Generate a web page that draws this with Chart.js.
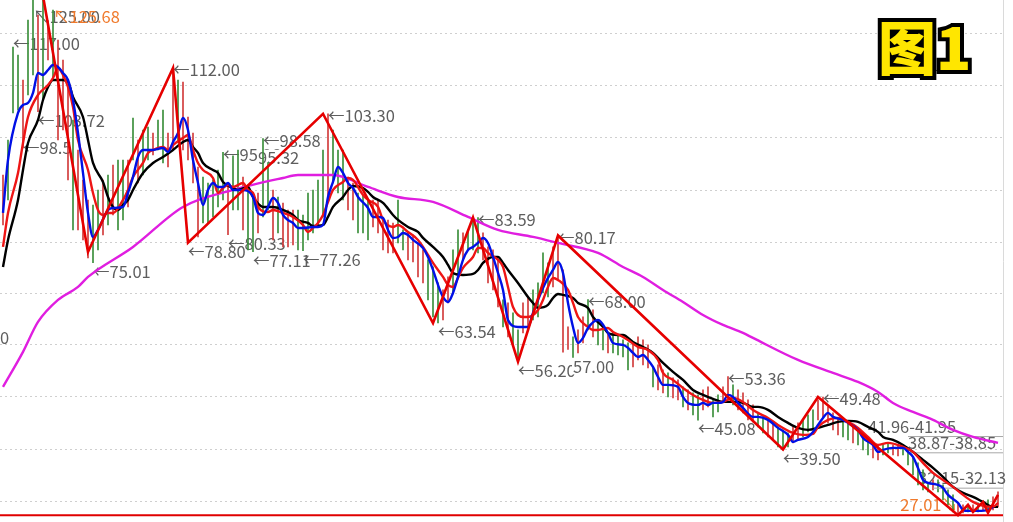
<!DOCTYPE html>
<html><head><meta charset="utf-8">
<script src="https://cdn.jsdelivr.net/npm/chart.js@4.4.0/dist/chart.umd.min.js"></script>
<style>html,body{margin:0;padding:0;background:#fff;overflow:hidden}#wrap{width:1013px;height:522px;position:relative}</style>
</head><body><div id="wrap"><canvas id="c" width="1013" height="522"></canvas></div>
<script>
// ---- candle data (day index 0..199) ----
const highs=[91.67,98.32,115.99,114.47,109.72,121.12,125.00,122.07,125.68,121.0,
123.02,117.32,113.52,109.72,102.12,96.42,90.72,86.92,85.97,88.82,
90.72,91.67,93.57,94.52,94.52,94.52,102.5,98.32,100.22,100.79,
99.65,102.12,104.02,99.65,112.00,109.72,109.34,102.69,99.65,93.19,
91.29,90.15,90.72,92.62,95.96,89.77,95.32,96.42,91.29,89.77,
88.25,88.25,98.58,94.0,88.82,87.49,86.35,85.02,85.02,85.02,
84.07,88.25,88.82,90.72,96.42,103.30,100.22,96.42,96.42,91.29,
90.15,88.25,87.87,86.92,86.92,86.92,83.69,83.12,82.55,86.92,
81.22,80.65,80.27,78.75,77.42,75.52,74.19,71.15,69.82,72.29,
77.42,81.22,80.65,81.22,83.12,83.59,80.65,77.99,77.42,75.52,
67.92,67.35,65.45,62.22,67.35,68.49,69.82,71.15,76.85,74.95,
77.99,80.17,73.62,62.79,60.89,62.22,64.69,68.00,66.02,64.12,
62.22,61.65,61.65,61.27,60.32,59.75,59.75,60.89,60.32,59.37,
55.19,55.57,54.62,54.05,53.1,52.72,51.39,50.82,50.25,49.87,
50.82,51.39,48.92,49.87,51.39,53.36,51.77,50.82,50.25,48.92,
47.97,46.45,45.69,45.12,44.74,43.79,43.22,42.65,43.79,44.55,
45.12,46.07,47.02,48.92,49.48,47.59,46.45,45.5,45.12,44.74,
44.17,43.22,41.96,41.89,40.75,40.37,40.37,40.75,40.37,40.18,
40.37,39.6,37.9,36.95,35.62,33.2,33.72,33.72,32.77,31.82,
30.87,29.35,28.97,28.97,28.97,29.35,29.35,29.92,30.49,31.44];
const lows=[82.17,86.92,103.45,104.02,96.8,106.87,110.67,103.72,105.92,113.52,
109.72,98.32,100.22,90.72,81.22,81.22,79.32,75.9,75.01,77.42,
80.27,82.17,84.07,81.22,83.12,85.59,94.52,90.15,91.67,94.52,
95.47,96.42,93.95,93.19,96.42,97.75,96.42,94.52,90.15,79.89,
82.55,82.55,83.69,85.59,86.92,80.33,85.02,85.02,81.22,77.42,
77.11,80.65,83.69,85.02,79.32,80.65,77.99,77.99,78.37,77.42,
77.26,79.32,80.65,81.79,83.69,86.92,90.15,88.25,86.92,85.02,
83.12,80.65,80.65,79.32,81.79,80.65,77.42,76.85,76.85,78.75,
77.42,75.52,75.14,72.29,71.15,67.92,64.69,63.54,64.12,67.35,
69.25,72.29,75.52,77.42,77.42,76.85,75.52,71.15,69.82,66.59,
62.79,60.89,59.37,56.20,61.65,62.22,64.12,64.69,69.25,68.49,
70.39,71.72,58.0,58.5,57.00,57.85,59.75,62.22,60.89,59.37,
58.42,57.85,57.85,57.47,57.09,54.62,55.19,56.52,55.57,55.0,
51.39,50.82,50.25,49.49,49.3,48.92,47.59,47.02,46.07,45.08,
47.02,47.59,45.69,46.64,48.35,48.92,47.97,47.02,46.45,45.12,
44.74,43.79,42.65,41.89,41.32,39.99,39.50,39.99,40.75,41.32,
41.89,42.84,43.22,45.12,45.5,44.55,43.22,42.27,41.89,41.32,
40.75,40.37,39.42,38.47,37.9,37.52,38.47,38.85,38.47,38.28,
38.47,36.57,34.67,32.77,31.82,31.44,31.82,31.44,29.92,28.97,
27.64,27.01,27.45,27.64,27.64,27.64,27.83,27.64,28.02,28.59];
// r = red candle, g = green candle
const candleDir='rgggrggrgr'+'grrrgrrrgg'+'rgrggrgrgg'+'rggrrgrrrr'+'gggggrggrg'+'grggrgrrrg'+'gggggrgggr'+'rgggrrrrrg'+'grrrrgggrr'+'ggrgggrrrr'+
'grggrrgggg'+'rrrrgrrgrg'+'grggggrrrr'+'grrgrrgrgg'+'rrggrrgrrr'+'rggrrgggrr'+'gggrrrrrgg'+'rgggrrggrr'+'ggggggrggg'+'grrgrgrgrr';

// ---- moving averages ----
const ma5Day=[0,1,3,4,5,6,7,8,9,10,11,12,13,14,15,16,17,18,19,21,22,24,25,26,27,28,30,32,33,34,35,36,37,38,39,40,41,42,43,44,45,46,47,48,50,51,52,53,54,55,56,57,58,59,60,62,63,64,65,66,67,68,69,70,71,73,74,75,76,77,78,79,80,81,82,84,85,86,87,88,89,90,91,92,93,94,95,96,97,98,99,100,101,103,105,106,107,108,109,110,111,112,113,114,115,116,117,119,121,122,124,125,126,127,128,129,130,131,132,133,135,136,137,139,140,141,142,143,144,145,146,147,148,150,151,153,155,157,158,159,161,162,164,165,166,168,169,171,172,174,175,176,178,180,181,182,183,184,185,187,188,189,191,192,193,195,197,198];
const ma5=[84.45,94.52,103.45,104.97,105.35,107.25,111.05,110.67,111.62,112.57,112.19,111.05,109.72,105.92,99.65,92.05,84.45,79.89,81.22,85.02,85.4,85.59,88.25,91.29,95.09,96.42,96.42,96.8,96.04,97.94,99.65,102.5,100.22,94.52,90.15,85.97,88.82,90.15,89.39,89.39,90.15,88.82,88.82,88.82,87.49,84.45,84.07,85.59,87.3,86.35,84.07,83.12,82.55,81.6,81.6,81.79,81.79,82.17,87.49,90.34,93.19,92.05,90.15,89.2,87.49,85.4,83.69,83.69,83.5,81.22,79.7,79.89,80.65,80.27,79.32,77.8,76.09,73.62,70.77,68.49,67.54,69.25,72.29,75.52,77.42,77.99,78.75,79.7,78.75,76.09,73.05,69.82,64.12,62.79,62.79,65.45,67.92,70.2,72.1,73.62,75.14,73.05,67.35,62.79,59.75,60.7,62.6,64.12,61.65,59.75,59.37,58.8,57.85,57.09,57.47,56.52,55.19,53.29,51.77,51.77,51.39,49.49,48.35,47.97,48.35,47.97,48.35,48.35,48.54,49.87,49.49,48.35,47.4,45.69,45.69,45.12,43.6,42.27,40.94,41.32,41.89,42.84,45.5,46.45,45.69,45.12,44.55,43.22,41.7,40.37,39.04,39.42,39.8,39.8,39.04,38.09,35.99,33.72,33.15,32.77,32.2,30.87,29.35,28.02,27.83,27.83,28.02,28.59];
const ma10Day=[0,1,3,4,5,7,9,10,11,12,13,14,15,17,18,19,20,21,22,24,25,26,28,29,30,32,33,34,36,37,38,39,40,42,43,44,45,46,48,49,50,51,53,54,56,58,60,61,62,63,64,65,66,68,69,70,72,73,75,76,78,79,81,83,84,86,88,89,90,91,92,94,95,96,97,99,100,101,102,104,105,107,108,109,110,111,113,114,115,117,118,119,121,122,124,125,127,129,131,132,134,136,138,140,142,144,146,148,150,151,153,155,158,160,162,163,165,167,169,171,173,175,177,180,182,184,186,188,190,192,194,196,198,199];
const ma10=[77.99,84.45,92.05,97.75,102.69,106.87,108.77,110.1,112.0,110.67,108.39,104.59,98.32,92.62,88.25,85.02,84.07,84.45,84.45,86.92,88.82,91.29,93.95,95.85,96.42,96.99,96.42,97.37,98.7,99.27,96.42,93.95,92.62,91.1,88.25,89.2,89.77,89.39,90.15,88.82,88.25,85.59,84.64,85.02,84.45,83.69,82.17,80.84,81.6,82.55,84.07,86.54,88.82,90.34,91.1,90.72,87.87,86.92,85.59,83.12,81.79,82.17,80.84,79.32,77.99,74.95,72.29,70.77,70.39,72.1,74.0,76.09,77.8,77.8,76.85,75.52,74.19,70.39,66.59,64.69,64.69,66.02,67.92,70.39,72.1,71.72,69.82,67.35,64.69,62.79,62.22,62.22,62.6,61.84,60.89,60.32,58.99,58.42,56.52,54.05,52.72,51.2,49.87,48.92,48.35,48.54,49.3,48.54,47.02,46.45,45.5,44.17,42.65,42.27,42.46,43.79,45.12,45.5,44.74,43.6,41.89,40.37,40.75,39.99,39.04,36.95,35.05,33.72,32.39,30.87,29.54,28.78,28.59,29.35];
const ma20Day=[0,1,3,4,5,7,8,9,10,12,13,14,16,17,18,20,21,22,23,24,25,26,28,30,32,34,36,37,38,39,40,42,43,44,46,47,49,50,52,54,56,58,59,61,62,64,65,66,68,69,70,72,73,74,76,78,79,81,83,84,86,88,89,90,92,94,95,96,98,99,100,101,103,105,106,107,109,110,111,112,114,115,117,118,120,121,123,124,126,128,130,132,134,136,138,140,142,144,146,148,150,151,153,155,157,159,161,163,165,167,169,171,173,175,176,178,180,182,184,186,188,190,192,194,196,198,199];
const ma20=[74.19,79.32,86.92,92.62,97.75,102.12,105.92,108.39,109.72,109.72,109.34,106.49,102.69,98.32,93.95,90.34,87.49,85.59,85.02,85.97,86.92,88.82,92.05,93.95,95.09,96.42,97.94,98.32,96.99,95.85,93.95,92.62,92.05,90.34,89.2,88.82,89.39,87.49,85.59,85.59,85.02,84.07,83.12,82.55,81.98,82.17,83.69,85.59,87.49,88.82,89.58,89.2,88.44,87.49,86.35,84.07,83.12,81.79,80.84,79.7,77.99,76.09,74.57,73.05,72.67,72.86,73.62,74.95,76.09,76.09,74.95,73.62,71.15,68.49,67.35,66.4,66.97,68.3,69.06,68.87,68.3,67.35,66.4,64.69,62.79,61.65,61.27,61.27,59.94,58.99,57.85,55.95,54.24,52.72,50.82,49.87,49.11,48.54,48.54,48.35,47.59,47.59,47.02,45.69,44.55,43.6,43.22,43.6,44.17,44.74,44.93,44.74,43.79,42.84,41.89,41.32,40.37,39.04,37.52,36.0,34.29,32.39,31.25,30.49,29.54,28.59,28.59];
const maLongDay=[0,4,7,11,15,17,26,36,46,56,59,66,73,79,86,93,99,106,111,119,124,128,132,136,140,144,148,150,159,166,171,175,178,182,186,190,194,199];
const maLong=[51.39,58.04,63.74,67.92,70.39,72.29,77.99,85.59,88.82,91.1,91.67,91.67,89.39,87.49,86.54,83.69,81.22,79.89,78.75,76.85,74.19,72.29,69.82,67.54,65.07,63.17,61.65,60.7,56.52,54.05,52.34,50.44,48.35,46.64,45.12,43.22,41.89,40.75];

// ---- zigzag pivots ----
const zzDay=[8,17,34,37,64,86,94,103,111,156,163,191,193,194,196,197,199];
const zzVal=[125.68,77.04,112.00,78.80,103.30,63.54,83.59,56.20,80.17,39.50,49.48,27.01,28.97,27.64,29.54,27.45,30.87];

// ---- range levels ----
const rangeDay=[181,181,186];
const rangeVal=[41.96,38.87,32.15];

// ---- price labels ----
const labelDay=[6,10,2,7,4,18,34,37,44,51,52,45,50,60,65,87,95,103,114,111,117,145,139,156,164,173,181,183,191,-0.6];
const labelPrice=[125.00,125.68,117.00,103.72,98.5,75.01,112.00,78.80,95.96,95.32,98.58,80.33,77.11,77.26,103.30,63.54,83.59,56.20,57.00,80.17,68.00,53.36,45.08,39.50,49.48,41.96,38.87,32.15,27.01,60.7];
const labelText=['125.00','125.68','117.00','103.72','98.5','75.01','112.00','78.80','95.96','95.32','98.58','80.33','77.11','77.26','103.30','63.54','83.59','56.20','57.00','80.17','68.00','53.36','45.08','39.50','49.48','41.96-41.95','38.87-38.85','32.15-32.13','27.01','0'];
const labelKind=['top','top','h','l','l','l','h','l','h','hn','h','l','l','l','h','l','h','l','ln','h','h','h','l','l','h','r','r','r','end','edge'];

// ---- grid levels ----
const gridLevels=[29.71,39.59,49.48,59.36,69.05,78.93,88.81,98.70,108.58,118.46];

const X_MIN=-0.6, X_MAX=highs.length, Y_MIN=25.72, Y_MAX=124.92;
const RED='#d23c3c', GREEN='#3a8f3a', GRAY='#5e5e5e', ORANGE='#f07a2c';
const FONT='16.5px "Noto Sans CJK SC", "Microsoft YaHei", sans-serif';

const pts=(d,v)=>d.map((x,k)=>({x:x,y:v[k]}));
const hiMax=Math.max(...highs), loMin=Math.min(...lows);

const candles=highs.map((h,i)=>({x:i,y:[lows[i],h]}));
const candleCols=highs.map((h,i)=>candleDir[i]==='r'?RED:GREEN);

const datasets=[
 {type:'line',data:pts(zzDay,zzVal),borderColor:'#e60000',borderWidth:2.6,pointRadius:0,tension:0,order:0},
 {type:'line',data:pts(ma5Day,ma5),borderColor:'#0010e6',borderWidth:2.4,pointRadius:0,cubicInterpolationMode:'monotone',order:1},
 {type:'line',data:pts(ma10Day,ma10),borderColor:'#ee1515',borderWidth:2.4,pointRadius:0,cubicInterpolationMode:'monotone',order:2},
 {type:'line',data:pts(ma20Day,ma20),borderColor:'#000000',borderWidth:2.4,pointRadius:0,cubicInterpolationMode:'monotone',order:3},
 {type:'line',data:pts(maLongDay,maLong),borderColor:'#e01ee0',borderWidth:2.4,pointRadius:0,cubicInterpolationMode:'monotone',order:4},
 {type:'line',data:[{x:X_MIN,y:loMin},{x:X_MAX,y:loMin}],borderColor:'#e00000',borderWidth:2,pointRadius:0,order:5},
];
rangeDay.forEach((d,k)=>datasets.push({type:'line',data:[{x:d,y:rangeVal[k]},{x:X_MAX,y:rangeVal[k]}],borderColor:'#a8a8a8',borderWidth:1,pointRadius:0,order:6}));
datasets.push({type:'bar',data:candles,backgroundColor:candleCols,borderWidth:0,barThickness:1,grouped:false,order:9});

const labelPlugin={id:'priceLabels',beforeDatasetsDraw(chart){
  const {ctx,scales:{x,y}}=chart;
  ctx.save(); ctx.font=FONT; ctx.textBaseline='middle';
  labelText.forEach((t,k)=>{
    const kind=labelKind[k];
    const px=x.getPixelForValue(labelDay[k]);
    let py=y.getPixelForValue(labelPrice[k]);
    const extreme=(labelPrice[k]===hiMax||labelPrice[k]===loMin);
    let s=t, align='left', box=false;
    if(kind==='top'){s='\u2196'+t; py=Math.max(py,17);}
    else if(kind==='h'){s='\u2190'+t; py+=2;}
    else if(kind==='l'){s='\u2190'+t; py+=9;}
    else if(kind==='hn'){py+=2; box=true;}
    else if(kind==='ln'){py+=9; box=true;}
    else if(kind==='r'){py-=10;}
    else if(kind==='end'){s=t+'\u2198'; py-=10; align='right';}
    ctx.textAlign=align;
    if(box){const w=ctx.measureText(s).width; ctx.fillStyle='#fff'; ctx.fillRect(px-1,py-8,w+2,16);}
    ctx.fillStyle=extreme?ORANGE:GRAY;
    ctx.fillText(s,px,py);
  });
  ctx.restore();
}};
const badgePlugin={id:'badge',afterDraw(chart){
  const ctx=chart.ctx; ctx.save();
  ctx.font='900 58px "Noto Sans CJK SC", sans-serif';
  ctx.textBaseline='middle'; ctx.textAlign='left'; ctx.lineJoin='miter'; ctx.lineWidth=8;
  ctx.strokeStyle='#000'; ctx.strokeText('图1',878,48);
  ctx.fillStyle='#ffe600'; ctx.fillText('图1',878,48);
  ctx.restore();
}};

new Chart(document.getElementById('c'),{
  type:'bar',
  data:{datasets},
  options:{
    responsive:false,animation:false,events:[],normalized:true,
    layout:{padding:{left:0,top:0,bottom:0,right:10}},
    plugins:{legend:{display:false},tooltip:{enabled:false},title:{display:false}},
    scales:{
      x:{type:'linear',min:X_MIN,max:X_MAX,offset:false,display:false},
      y:{type:'linear',position:'right',min:Y_MIN,max:Y_MAX,
         afterBuildTicks:s=>{s.ticks=gridLevels.map(v=>({value:v}));},
         ticks:{display:false},
         grid:{color:'#cfcfcf',lineWidth:1,drawTicks:false},
         border:{display:true,color:'#dadada',width:1,dash:[2,3]}}
    }
  },
  plugins:[labelPlugin,badgePlugin]
});
</script></body></html>
